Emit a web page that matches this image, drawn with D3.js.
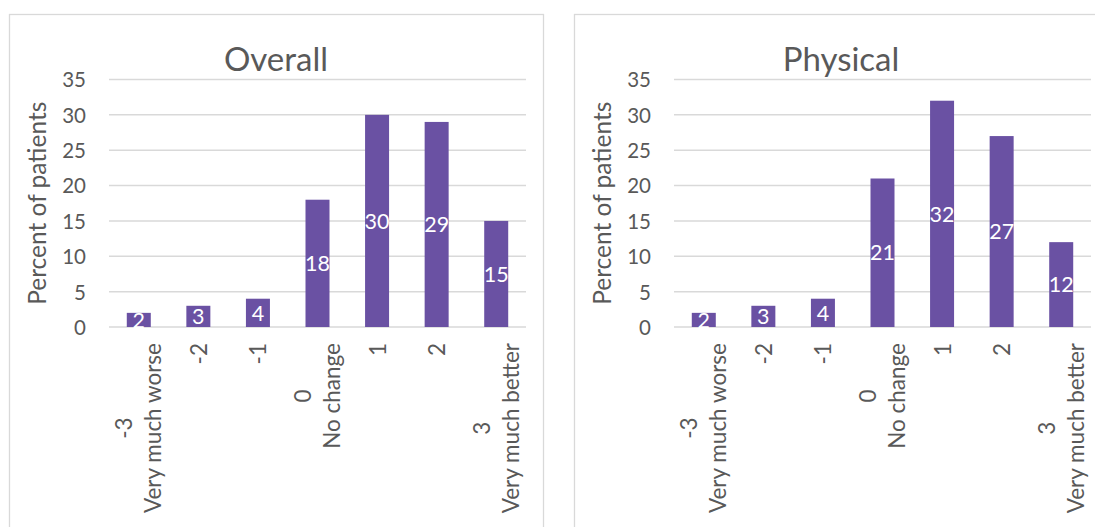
<!DOCTYPE html>
<html>
<head>
<meta charset="utf-8">
<script src="https://cdn.jsdelivr.net/npm/d3@7"></script>
<style>
  html, body { margin: 0; padding: 0; background: #fff; overflow: hidden; }
  svg { display: block; }
  text { font-family: Lato, "Open Sans", sans-serif; fill: #595959; }
</style>
</head>
<body>
<svg id="chart" width="1095" height="527"></svg>
<script>
// ---- data ----
const categories = [["-3", "Very much worse"], ["-2"], ["-1"], ["0", "No change"], ["1"], ["2"], ["3", "Very much better"]];
const overallValues = [2, 3, 4, 18, 30, 29, 15];
const physicalValues = [2, 3, 4, 21, 32, 27, 12];
const yTicks = [0, 5, 10, 15, 20, 25, 30, 35];
const titles = ["Overall", "Physical"];
const yAxisTitle = "Percent of patients";

const svg = d3.select("#chart");
const barColor = "#6a51a3";
const gridColor = "#d9d9d9";

const panels = [
  { title: titles[0], values: overallValues, px: 9, plotL: 109, plotR: 526 },
  { title: titles[1], values: physicalValues, px: 574, plotL: 674, plotR: 1091 }
];
const panelW = 534, panelTop = 14.5;
const plotTop = 79.5, plotBottom = 327;

panels.forEach(p => {
  const g = svg.append("g");
  // panel border
  g.append("rect")
    .attr("x", p.px + 0.5).attr("y", panelTop)
    .attr("width", panelW).attr("height", 600)
    .attr("fill", "none").attr("stroke", gridColor).attr("stroke-width", 1.3);

  const x = d3.scaleBand().domain(d3.range(categories.length))
    .range([p.plotL, p.plotR]).paddingInner(0.6).paddingOuter(0.3);
  const y = d3.scaleLinear().domain([0, 35]).range([plotBottom, plotTop]);

  // gridlines
  g.append("g").selectAll("line").data(yTicks).join("line")
    .attr("x1", p.plotL).attr("x2", p.plotR)
    .attr("y1", d => y(d)).attr("y2", d => y(d))
    .attr("stroke", gridColor).attr("stroke-width", 1.5);

  // y axis via d3.axisLeft (no domain/ticks lines)
  const yAxis = g.append("g")
    .attr("transform", `translate(${p.plotL},0)`)
    .call(d3.axisLeft(y).tickValues(yTicks).tickSize(0).tickPadding(23));
  yAxis.select(".domain").remove();
  yAxis.selectAll("text")
    .style("font-family", "Lato, 'Open Sans', sans-serif")
    .attr("font-size", 20.5).attr("fill", "#595959").attr("dy", "0.36em");

  // title
  g.append("text")
    .attr("x", p.px + panelW / 2).attr("y", 70.5)
    .attr("text-anchor", "middle")
    .attr("font-size", 33)
    .text(p.title);

  // y axis title
  g.append("text")
    .attr("transform", `translate(${p.px + 37},${(plotTop + plotBottom) / 2}) rotate(-90)`)
    .attr("text-anchor", "middle")
    .attr("font-size", 24.5)
    .text(yAxisTitle);

  // bars
  const bw = 24;
  g.append("g").selectAll("rect").data(p.values).join("rect")
    .attr("x", (d, i) => x(i) + x.bandwidth() / 2 - bw / 2)
    .attr("width", bw)
    .attr("y", d => y(d))
    .attr("height", d => y(0) - y(d))
    .attr("fill", barColor);

  // data labels (centered)
  g.append("g").selectAll("text").data(p.values).join("text")
    .attr("x", (d, i) => x(i) + x.bandwidth() / 2)
    .attr("y", d => (y(d) + y(0)) / 2)
    .attr("dy", "0.36em")
    .attr("text-anchor", "middle")
    .attr("font-size", 21.5)
    .style("fill", "#ffffff")
    .text(d => d);

  // x category labels (rotated, multi-line, centered)
  categories.forEach((lines, i) => {
    const cx = x(i) + x.bandwidth() / 2;
    const lg = g.append("g");
    const t = lg.append("text").attr("text-anchor", "middle").attr("font-size", 22.5);
    const offs = lines.length === 1 ? [8.5] : [-6.5, 22.5];
    lines.forEach((ln, k) => {
      t.append("tspan").attr("x", 0).attr("y", offs[k]).text(ln);
    });
    let maxLen = 0;
    t.selectAll("tspan").each(function () {
      maxLen = Math.max(maxLen, this.getComputedTextLength());
    });
    lg.attr("transform", `translate(${cx},${343 + maxLen / 2}) rotate(-90)`);
  });
});
</script>
</body>
</html>
